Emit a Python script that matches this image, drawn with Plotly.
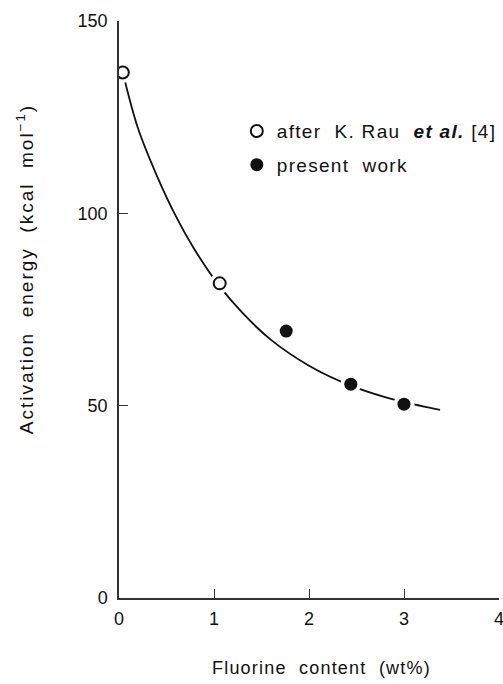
import plotly.graph_objects as go

# Activation energy vs fluorine content
rau_x = [0.04, 1.06]
rau_y = [136.6, 81.8]

present_x = [1.76, 2.44, 3.0]
present_y = [69.4, 55.6, 50.4]

# Smooth trend curve
curve_x = [0.04, 0.2, 0.4, 0.6, 0.8, 1.06, 1.3, 1.6, 2.0, 2.44, 2.8, 3.0, 3.38]
curve_y = [136.6, 122.1, 109.7, 99.2, 90.4, 81.0, 74.1, 67.1, 60.4, 55.2, 52.2, 50.9, 48.9]

x_ticks = [0, 1, 2, 3, 4]
y_ticks = [0, 50, 100, 150]

FONT = "Liberation Sans, Arial, sans-serif"
INK = "#111111"


def spaced(s, px):
    return f'<span style="letter-spacing:{px}px">{s}</span>'


fig = go.Figure()

fig.add_trace(go.Scatter(
    x=curve_x, y=curve_y, mode="lines", line=dict(color=INK, width=1.8, shape="spline"),
    showlegend=False, hoverinfo="skip"))

# white halo so the curve breaks around each point
fig.add_trace(go.Scatter(
    x=rau_x + present_x, y=rau_y + present_y, mode="markers",
    marker=dict(size=21, color="white", line=dict(width=0)),
    showlegend=False, hoverinfo="skip"))

fig.add_trace(go.Scatter(
    x=rau_x, y=rau_y, mode="markers", legendgroup="a",
    name=spaced("after&nbsp;&nbsp;K.&nbsp;Rau&nbsp;&nbsp;<b><i>et&nbsp;al.</i></b>&nbsp;[4]", 1.3),
    marker=dict(symbol="circle-open", size=12, color=INK, line=dict(width=2, color=INK))))

fig.add_trace(go.Scatter(
    x=present_x, y=present_y, mode="markers", legendgroup="b",
    name=spaced("present&nbsp;&nbsp;work", 1.3),
    marker=dict(symbol="circle", size=13, color=INK)))

axis_common = dict(
    showgrid=False, zeroline=False, showline=True, linecolor="#333333", linewidth=1.5,
    ticks="inside", ticklen=9, tickwidth=1.2, tickcolor="#333333",
    ticklabeloverflow="allow",
    tickfont=dict(family=FONT, size=18, color=INK))

fig.update_xaxes(range=[0, 4], tickvals=x_ticks, ticklabelstandoff=4, **axis_common)
fig.update_yaxes(range=[0, 150], tickvals=y_ticks, ticklabelstandoff=6, **axis_common)

fig.add_annotation(
    text=spaced("Fluorine&nbsp;&nbsp;content&nbsp;&nbsp;(wt%)", 1.2),
    xref="paper", yref="paper", x=0.534, y=-0.121, showarrow=False,
    font=dict(family=FONT, size=18, color=INK), xanchor="center", yanchor="middle")

fig.add_annotation(
    text=spaced("Activation&nbsp;&nbsp;energy&nbsp;&nbsp;(kcal&nbsp;&nbsp;mol<sup>−1</sup>)", 2.0),
    xref="paper", yref="paper", x=-0.247, y=0.57, showarrow=False, textangle=-90,
    font=dict(family=FONT, size=19, color=INK), xanchor="center", yanchor="middle")

fig.update_layout(
    width=503, height=684,
    margin=dict(l=119, r=4, t=21, b=86, autoexpand=False),
    paper_bgcolor="white", plot_bgcolor="white",
    showlegend=True,
    legend=dict(x=0.31, y=0.842, xanchor="left", yanchor="top",
                font=dict(family=FONT, size=19, color=INK),
                tracegroupgap=6, traceorder="grouped", bgcolor="rgba(0,0,0,0)"),
)

fig.write_html("out.html")
